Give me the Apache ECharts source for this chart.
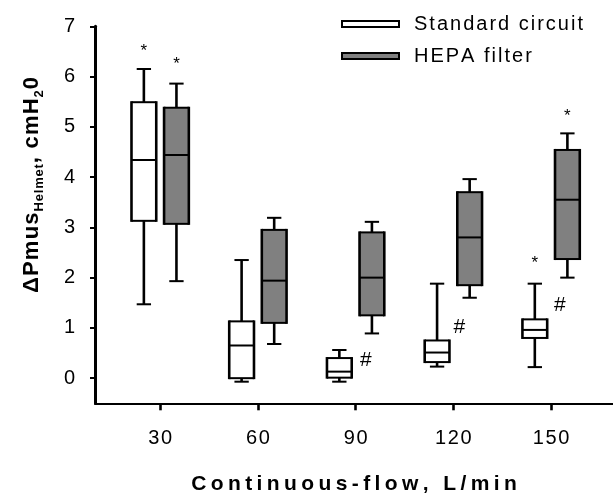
<!DOCTYPE html>
<html>
<head>
<meta charset="utf-8">
<script src="https://cdn.jsdelivr.net/npm/echarts@6/dist/echarts.min.js"></script>
<style>
  html, body { margin: 0; padding: 0; background: #fff; }
  #chart { width: 613px; height: 496px; }
</style>
</head>
<body>
<div id="chart"></div>
<script>
var flows = [30, 60, 90, 120, 150];
var flowTicks = [30, 60, 90, 120, 150];
var pressureTicks = [0, 1, 2, 3, 4, 5, 6, 7];
// [min, Q1, median, Q3, max] per flow
var standardBoxes = [
  [1.47, 3.13, 4.34, 5.49, 6.15],
  [-0.07, 0.00, 0.65, 1.13, 2.35],
  [-0.07, 0.01, 0.13, 0.40, 0.56],
  [0.23, 0.32, 0.51, 0.75, 1.88],
  [0.22, 0.80, 0.96, 1.17, 1.88]
];
var hepaBoxes = [
  [1.93, 3.07, 4.44, 5.38, 5.86],
  [0.68, 1.10, 1.94, 2.95, 3.19],
  [0.89, 1.25, 2.00, 2.90, 3.11],
  [1.60, 1.85, 2.80, 3.70, 3.96],
  [2.00, 2.37, 3.55, 4.54, 4.87]
];
// significance marks [flow position, value]
var starMarks = [[25, 6.6], [35, 6.33], [145, 2.39], [155, 5.3]];
var hashMarks = [[93.1, 0.36], [121.8, 1.01], [152.7, 1.46]];

var GROUP_OFFSET = 5;
var BOX_HALF = 3.8;
var CAP_HALF = 2.2;
var FONT = 'Liberation Sans';

// one rich token per character, gives the letter spacing
function spaced(text, style) {
  return text.split('').map(function (ch) {
    return '{' + style + '|' + ch + '}';
  }).join('');
}

function renderBox(params, api) {
  var x = api.value(0);
  var lo = api.coord([x, api.value(1)]);
  var q1 = api.coord([x, api.value(2)]);
  var med = api.coord([x, api.value(3)]);
  var q3 = api.coord([x, api.value(4)]);
  var hi = api.coord([x, api.value(5)]);
  var half = api.size([BOX_HALF, 0])[0];
  var cap = api.size([CAP_HALF, 0])[0];
  var cx = lo[0];
  var vLine = { stroke: '#000', lineWidth: 2.6 };
  var hLine = { stroke: '#000', lineWidth: 2 };
  function seg(x1, y1, x2, y2, style) {
    return { type: 'line', shape: { x1: x1, y1: y1, x2: x2, y2: y2 }, style: style };
  }
  return {
    type: 'group',
    children: [
      seg(cx, q3[1], cx, hi[1], vLine),
      seg(cx - cap, hi[1], cx + cap, hi[1], hLine),
      seg(cx, q1[1], cx, lo[1], vLine),
      seg(cx - cap, lo[1], cx + cap, lo[1], hLine),
      {
        type: 'rect',
        shape: { x: cx - half, y: q3[1], width: half * 2, height: q1[1] - q3[1] },
        style: { fill: api.visual('color') }
      },
      seg(cx - half, q3[1] - 1, cx - half, q1[1] + 1, vLine),
      seg(cx + half, q3[1] - 1, cx + half, q1[1] + 1, vLine),
      seg(cx - half, q3[1], cx + half, q3[1], hLine),
      seg(cx - half, q1[1], cx + half, q1[1], hLine),
      seg(cx - half, med[1], cx + half, med[1], hLine)
    ]
  };
}

function markRenderer(glyph, size, dy) {
  return function (params, api) {
    var p = api.coord([api.value(0), api.value(1)]);
    return {
      type: 'text',
      x: p[0],
      y: p[1] + dy,
      style: {
        text: glyph,
        fontSize: size,
        fontFamily: FONT,
        fill: '#000',
        align: 'center',
        verticalAlign: 'middle'
      }
    };
  };
}

var chart = echarts.init(document.getElementById('chart'), null, { renderer: 'canvas' });

var yTitle = spaced('ΔPmus', 'b') + spaced('Helmet', 's') + spaced(', cmH', 'b') + spaced('2', 's') + spaced('0', 'b');

var option = {
  animation: false,
  backgroundColor: '#fff',
  grid: { left: 95, right: 0, top: 26.3, bottom: 92.7, containLabel: false, outerBoundsMode: 'none' },
  legend: {
    orient: 'vertical',
    left: 341,
    top: 14,
    padding: 0,
    itemGap: 12,
    icon: 'rect',
    itemWidth: 57,
    itemHeight: 6,
    formatter: function (name) { return '{g| }' + spaced(name, 't'); },
    textStyle: {
      rich: {
        g: { width: 9, fontSize: 20, lineHeight: 20 },
        t: { fontSize: 20, lineHeight: 20, fontFamily: FONT, color: '#000', padding: [0, 1] }
      }
    },
    data: [
      { name: 'Standard circuit', itemStyle: { color: '#fff', borderColor: '#000', borderWidth: 2 } },
      { name: 'HEPA filter', itemStyle: { color: '#808080', borderColor: '#000', borderWidth: 2 } }
    ]
  },
  xAxis: {
    type: 'value',
    min: 10,
    max: 169,
    name: spaced('Continuous-flow, L/min', 'x'),
    nameLocation: 'middle',
    nameGap: 70,
    nameTextStyle: {
      rich: {
        x: { fontSize: 21, fontWeight: 'bold', fontFamily: FONT, color: '#000', padding: [0, 2.2] }
      }
    },
    splitLine: { show: false },
    axisLine: { show: true, onZero: false, lineStyle: { color: '#000', width: 2 } },
    axisTick: { show: true, customValues: flowTicks, length: 7, lineStyle: { color: '#000', width: 2.6 } },
    axisLabel: {
      customValues: flowTicks,
      margin: 25,
      formatter: function (v) { return spaced(String(v), 'n'); },
      rich: { n: { fontSize: 20, fontFamily: FONT, color: '#000', padding: [0, 0.8] } }
    }
  },
  yAxis: {
    type: 'value',
    min: -0.5,
    max: 7,
    splitLine: { show: false },
    axisLine: { show: true, onZero: false, lineStyle: { color: '#000', width: 3 } },
    axisTick: { show: true, customValues: pressureTicks, length: 5, lineStyle: { color: '#000', width: 2 } },
    axisLabel: { customValues: pressureTicks, fontSize: 20, fontFamily: FONT, color: '#000', margin: 20 }
  },
  graphic: [{
    type: 'text',
    x: 33,
    y: 185,
    rotation: Math.PI / 2,
    style: {
      text: yTitle,
      align: 'center',
      verticalAlign: 'middle',
      rich: {
        b: { fontSize: 22, fontWeight: 'bold', fontFamily: FONT, fill: '#000', lineHeight: 25, verticalAlign: 'top', padding: [0, 0.6] },
        s: { fontSize: 13, fontWeight: 'bold', fontFamily: FONT, fill: '#000', lineHeight: 13, verticalAlign: 'bottom', padding: [0, 0.4] }
      }
    }
  }],
  series: [
    {
      name: 'Standard circuit',
      type: 'custom',
      renderItem: renderBox,
      itemStyle: { color: '#fff', borderColor: '#000', borderWidth: 2 },
      encode: { x: 0, y: [1, 2, 3, 4, 5] },
      data: standardBoxes.map(function (b, i) { return [flows[i] - GROUP_OFFSET].concat(b); })
    },
    {
      name: 'HEPA filter',
      type: 'custom',
      renderItem: renderBox,
      itemStyle: { color: '#808080', borderColor: '#000', borderWidth: 2 },
      encode: { x: 0, y: [1, 2, 3, 4, 5] },
      data: hepaBoxes.map(function (b, i) { return [flows[i] + GROUP_OFFSET].concat(b); })
    },
    {
      name: 'stars',
      type: 'custom',
      renderItem: markRenderer('*', 17, 4.8),
      encode: { x: 0, y: 1 },
      data: starMarks
    },
    {
      name: 'hashes',
      type: 'custom',
      renderItem: markRenderer('#', 21, 0),
      encode: { x: 0, y: 1 },
      data: hashMarks
    }
  ]
};

chart.setOption(option);
</script>
</body>
</html>
